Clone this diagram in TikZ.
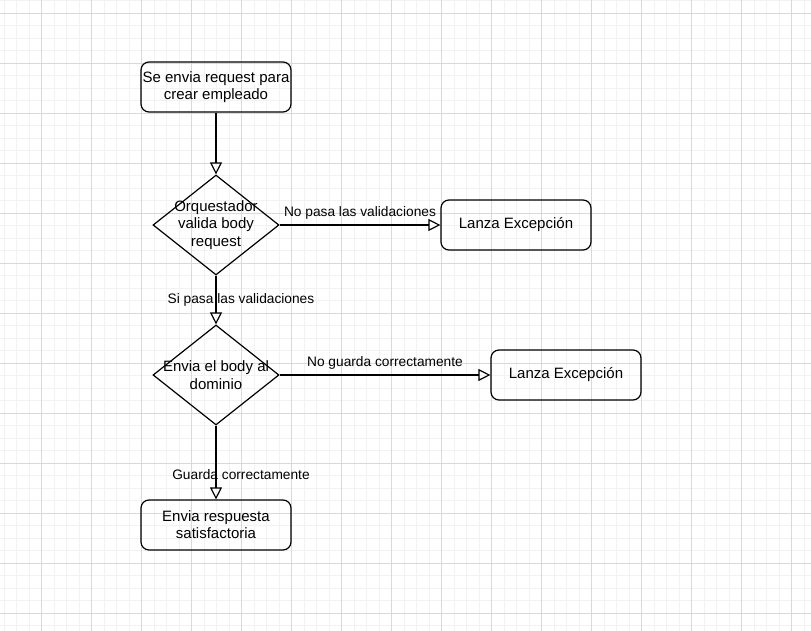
\documentclass[tikz,border=0pt]{standalone}
\usepackage{fontspec}
\setmainfont{Liberation Sans}
\usetikzlibrary{positioning,shapes.geometric,arrows.meta}
\tikzset{box/.style={draw,line width=0.9pt,rounded corners=6pt,minimum width=112.5pt,minimum height=37.5pt,align=center,inner sep=1pt,font=\fontsize{11.25pt}{12.75pt}\selectfont}}
\tikzset{decision/.style={draw,diamond,line width=0.9pt,minimum width=94.5pt,minimum height=75pt,inner sep=0pt}}
\tikzset{dtext/.style={align=center,inner sep=0pt,font=\fontsize{11.25pt}{13pt}\selectfont}}
\tikzset{flow/.style={-{Triangle[open,length=9pt,width=9pt]},line width=0.9pt}}
\tikzset{edgelabel/.style={inner sep=0pt,font=\fontsize{10.3pt}{12pt}\selectfont}}
\tikzset{minorgrid/.style={draw=black!5,line width=0.75pt}}
\tikzset{majorgrid/.style={draw=black!15,line width=0.75pt}}

\begin{document}
\begin{tikzpicture}[x=0.75pt,y=-0.75pt]
\useasboundingbox (0,0) rectangle (811,631);
\fill[white] (0,0) rectangle (811,631);
% background grid
\foreach \i in {0,...,64}
	\draw[minorgrid] ({4.17+12.5*\i},0) -- ({4.17+12.5*\i},631);
\foreach \j in {0,...,50}
	\draw[minorgrid] (0,{0.83+12.5*\j}) -- (811,{0.83+12.5*\j});
\foreach \i in {0,...,15}
	\draw[majorgrid] ({41.67+50*\i},0) -- ({41.67+50*\i},631);
\foreach \j in {0,...,12}
	\draw[majorgrid] (0,{13.33+50*\j}) -- (811,{13.33+50*\j});

\node[box] (request) at (216,87) {Se envia request para\\crear empleado};
\node[decision,label={[dtext]center:Orquestador\\valida body\\request}] (valida) at (216,225) {};
\node[box] (excepcion1) at (516,225) {Lanza Excepción};
\node[decision,label={[dtext]center:Envia el body al\\dominio}] (dominio) at (216,375) {};
\node[box] (excepcion2) at (566,375) {Lanza Excepción};
\node[box] (respuesta) at (216,525) {Envia respuesta\\satisfactoria};

\draw[flow] (request) -- (valida);
\draw[flow] (valida) -- (excepcion1) node[edgelabel,midway,yshift=9pt] {No pasa las validaciones};
\draw[flow] (valida) -- (dominio) node[edgelabel,midway,xshift=18.75pt] {Si pasa las validaciones};
\draw[flow] (dominio) -- (excepcion2) node[edgelabel,midway,yshift=9pt] {No guarda correctamente};
\draw[flow] (dominio) -- (respuesta) node[edgelabel,pos=0.67,xshift=18.75pt] {Guarda correctamente};
\end{tikzpicture}
\end{document}
